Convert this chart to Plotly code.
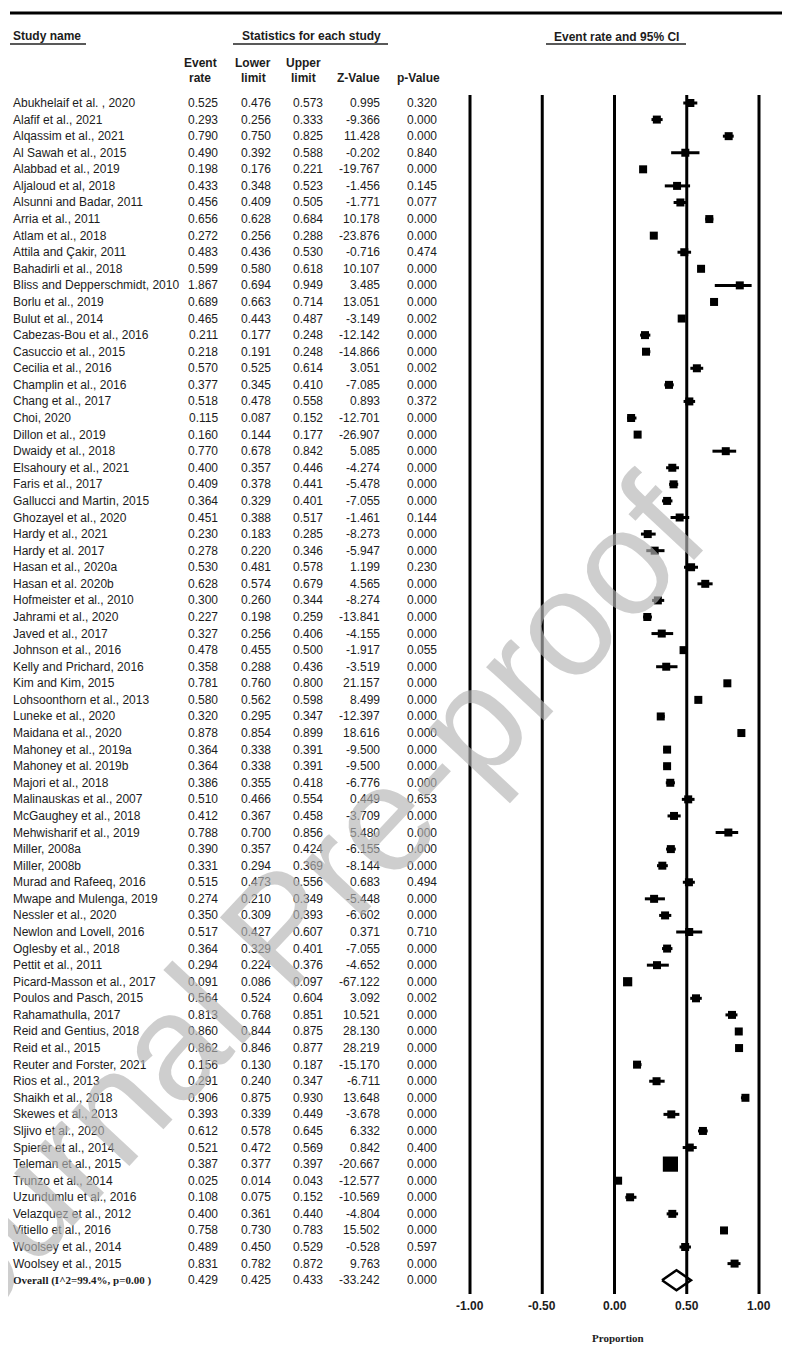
import plotly.graph_objects as go

# ---------------- data ----------------
study_names = [
    "Abukhelaif et al. , 2020", "Alafif et al., 2021", "Alqassim et al., 2021", "Al Sawah et al., 2015",
    "Alabbad et al., 2019", "Aljaloud et al, 2018", "Alsunni and Badar, 2011", "Arria et al., 2011",
    "Atlam et al., 2018", "Attila and Çakir, 2011", "Bahadirli et al., 2018", "Bliss and Depperschmidt, 2010",
    "Borlu et al., 2019", "Bulut et al., 2014", "Cabezas-Bou et al., 2016", "Casuccio et al., 2015",
    "Cecilia et al., 2016", "Champlin et al., 2016", "Chang et al., 2017", "Choi, 2020",
    "Dillon et al., 2019", "Dwaidy et al., 2018", "Elsahoury et al., 2021", "Faris et al., 2017",
    "Gallucci and Martin, 2015", "Ghozayel et al., 2020", "Hardy et al., 2021", "Hardy et al. 2017",
    "Hasan et al., 2020a", "Hasan et al. 2020b", "Hofmeister et al., 2010", "Jahrami et al., 2020",
    "Javed et al., 2017", "Johnson et al., 2016", "Kelly and Prichard, 2016", "Kim and Kim, 2015",
    "Lohsoonthorn et al., 2013", "Luneke et al., 2020", "Maidana et al., 2020", "Mahoney et al., 2019a",
    "Mahoney et al. 2019b", "Majori et al., 2018", "Malinauskas et al., 2007", "McGaughey et al., 2018",
    "Mehwisharif et al., 2019", "Miller, 2008a", "Miller, 2008b", "Murad and Rafeeq, 2016",
    "Mwape and Mulenga, 2019", "Nessler et al., 2020", "Newlon and Lovell, 2016", "Oglesby et al., 2018",
    "Pettit et al., 2011", "Picard-Masson et al., 2017", "Poulos and Pasch, 2015", "Rahamathulla, 2017",
    "Reid and Gentius, 2018", "Reid et al., 2015", "Reuter and Forster, 2021", "Rios et al., 2013",
    "Shaikh et al., 2018", "Skewes et al., 2013", "Sljivo et al., 2020", "Spierer et al., 2014",
    "Teleman et al., 2015", "Trunzo et al., 2014", "Uzundumlu et al., 2016", "Velazquez et al., 2012",
    "Vitiello et al., 2016", "Woolsey et al., 2014", "Woolsey et al., 2015",
]
event_rate = [
    0.525, 0.293, 0.790, 0.490, 0.198, 0.433, 0.456, 0.656, 0.272, 0.483, 0.599, 1.867,
    0.689, 0.465, 0.211, 0.218, 0.570, 0.377, 0.518, 0.115, 0.160, 0.770, 0.400, 0.409,
    0.364, 0.451, 0.230, 0.278, 0.530, 0.628, 0.300, 0.227, 0.327, 0.478, 0.358, 0.781,
    0.580, 0.320, 0.878, 0.364, 0.364, 0.386, 0.510, 0.412, 0.788, 0.390, 0.331, 0.515,
    0.274, 0.350, 0.517, 0.364, 0.294, 0.091, 0.564, 0.813, 0.860, 0.862, 0.156, 0.291,
    0.906, 0.393, 0.612, 0.521, 0.387, 0.025, 0.108, 0.400, 0.758, 0.489, 0.831,
]
lower_limit = [
    0.476, 0.256, 0.750, 0.392, 0.176, 0.348, 0.409, 0.628, 0.256, 0.436, 0.580, 0.694,
    0.663, 0.443, 0.177, 0.191, 0.525, 0.345, 0.478, 0.087, 0.144, 0.678, 0.357, 0.378,
    0.329, 0.388, 0.183, 0.220, 0.481, 0.574, 0.260, 0.198, 0.256, 0.455, 0.288, 0.760,
    0.562, 0.295, 0.854, 0.338, 0.338, 0.355, 0.466, 0.367, 0.700, 0.357, 0.294, 0.473,
    0.210, 0.309, 0.427, 0.329, 0.224, 0.086, 0.524, 0.768, 0.844, 0.846, 0.130, 0.240,
    0.875, 0.339, 0.578, 0.472, 0.377, 0.014, 0.075, 0.361, 0.730, 0.450, 0.782,
]
upper_limit = [
    0.573, 0.333, 0.825, 0.588, 0.221, 0.523, 0.505, 0.684, 0.288, 0.530, 0.618, 0.949,
    0.714, 0.487, 0.248, 0.248, 0.614, 0.410, 0.558, 0.152, 0.177, 0.842, 0.446, 0.441,
    0.401, 0.517, 0.285, 0.346, 0.578, 0.679, 0.344, 0.259, 0.406, 0.500, 0.436, 0.800,
    0.598, 0.347, 0.899, 0.391, 0.391, 0.418, 0.554, 0.458, 0.856, 0.424, 0.369, 0.556,
    0.349, 0.393, 0.607, 0.401, 0.376, 0.097, 0.604, 0.851, 0.875, 0.877, 0.187, 0.347,
    0.930, 0.449, 0.645, 0.569, 0.397, 0.043, 0.152, 0.440, 0.783, 0.529, 0.872,
]
z_value = [
    0.995, -9.366, 11.428, -0.202, -19.767, -1.456, -1.771, 10.178, -23.876, -0.716, 10.107, 3.485,
    13.051, -3.149, -12.142, -14.866, 3.051, -7.085, 0.893, -12.701, -26.907, 5.085, -4.274, -5.478,
    -7.055, -1.461, -8.273, -5.947, 1.199, 4.565, -8.274, -13.841, -4.155, -1.917, -3.519, 21.157,
    8.499, -12.397, 18.616, -9.500, -9.500, -6.776, 0.449, -3.709, 5.480, -6.155, -8.144, 0.683,
    -5.448, -6.602, 0.371, -7.055, -4.652, -67.122, 3.092, 10.521, 28.130, 28.219, -15.170, -6.711,
    13.648, -3.678, 6.332, 0.842, -20.667, -12.577, -10.569, -4.804, 15.502, -0.528, 9.763,
]
p_value = [
    0.320, 0.000, 0.000, 0.840, 0.000, 0.145, 0.077, 0.000, 0.000, 0.474, 0.000, 0.000,
    0.000, 0.002, 0.000, 0.000, 0.002, 0.000, 0.372, 0.000, 0.000, 0.000, 0.000, 0.000,
    0.000, 0.144, 0.000, 0.000, 0.230, 0.000, 0.000, 0.000, 0.000, 0.055, 0.000, 0.000,
    0.000, 0.000, 0.000, 0.000, 0.000, 0.000, 0.653, 0.000, 0.000, 0.000, 0.000, 0.494,
    0.000, 0.000, 0.710, 0.000, 0.000, 0.000, 0.002, 0.000, 0.000, 0.000, 0.000, 0.000,
    0.000, 0.000, 0.000, 0.400, 0.000, 0.000, 0.000, 0.000, 0.000, 0.597, 0.000,
]
# The table prints 1.867 for Bliss; the marker in the plot sits at 0.867
plotted_rate_fix = {"Bliss and Depperschmidt, 2010": 0.867}
# relative study weights (marker size)
relative_weight = {"Teleman et al., 2015": 1.9, "Picard-Masson et al., 2017": 1.15}

overall_label = "Overall (I^2=99.4%, p=0.00 )"
overall = dict(rate=0.429, lower=0.425, upper=0.433, z=-33.242, p=0.000)

x_ticks = [-1.0, -0.5, 0.0, 0.5, 1.0]
x_title = "Proportion"

# ---------------- layout helpers ----------------
# page body has an 8px margin; all positions below are given in window pixels
OFF = 8
FW, FH = 782, 1349
PX_PER_UNIT = 144.5
X_AT_MINUS1 = 470.0 - OFF
XR0 = -1 - X_AT_MINUS1 / PX_PER_UNIT
XR1 = XR0 + FW / PX_PER_UNIT


def PX(x):
    return (x - OFF) / FW


def PY(y):
    return y - OFF


ROW0, ROWH = 103.0, 16.58
row_y = [PY(ROW0 + i * ROWH) for i in range(len(study_names))]
overall_y = PY(ROW0 + len(study_names) * ROWH)

SANS = "Liberation Sans, Arial, sans-serif"
SERIF = "Liberation Serif, Times New Roman, serif"
TXT = "#1c1c1c"

fig = go.Figure()

# CI lines + squares
plot_rate = [plotted_rate_fix.get(n, r) for n, r in zip(study_names, event_rate)]
sizes = [8 * relative_weight.get(n, 1.0) for n in study_names]
fig.add_trace(go.Scatter(
    x=plot_rate, y=row_y, mode="markers",
    marker=dict(symbol="square", size=sizes, color="black", opacity=1, line=dict(width=0)),
    error_x=dict(type="data", symmetric=False,
                 array=[u - r for u, r in zip(upper_limit, plot_rate)],
                 arrayminus=[r - l for r, l in zip(plot_rate, lower_limit)],
                 thickness=3, width=0, color="black"),
    hoverinfo="skip",
))

# overall diamond
DW, DH = 0.1, 10
o = overall["rate"]
fig.add_trace(go.Scatter(
    x=[o - DW, o, o + DW, o, o - DW],
    y=[overall_y, overall_y - DH, overall_y, overall_y + DH, overall_y],
    mode="lines", fill="toself", fillcolor="white",
    line=dict(color="black", width=2.5), hoverinfo="skip",
))

shapes = []
for t in x_ticks:
    shapes.append(dict(type="line", xref="x", yref="y", x0=t, x1=t, y0=PY(95), y1=PY(1294),
                       line=dict(color="black", width=3), layer="above"))
# top rule
shapes.append(dict(type="line", xref="paper", yref="y", x0=PX(10), x1=1, y0=PY(13), y1=PY(13),
                   line=dict(color="black", width=3)))
# header underlines
for a, b in [(10, 86), (233, 388), (546, 686)]:
    shapes.append(dict(type="line", xref="paper", yref="y", x0=PX(a), x1=PX(b), y0=PY(44), y1=PY(44),
                       line=dict(color="#222", width=1.3)))

ann = []


def add_text(x, y, text, anchor="left", size=12, bold=False, family=SANS, xref="paper", color=TXT):
    ann.append(dict(x=PX(x) if xref == "paper" else x, y=y, xref=xref, yref="y",
                    text=f"<b>{text}</b>" if bold else text, showarrow=False,
                    xanchor=anchor, yanchor="middle",
                    font=dict(family=family, size=size, color=color)))


add_text(11, PY(36), "Study name", bold=True)
add_text(311, PY(36), "Statistics for each study", anchor="center", bold=True)
add_text(616, PY(37), "Event rate and 95% CI", anchor="center", bold=True)

col_right = [220, 273, 325, 382, 439]
headers = [("Event", "rate", 200), ("Lower", "limit", 253), ("Upper", "limit", 303)]
for top, bot, cx in headers:
    add_text(cx, PY(63), top, anchor="center", bold=True)
    add_text(cx, PY(78), bot, anchor="center", bold=True)
add_text(358, PY(78), "Z-Value", anchor="center", bold=True)
add_text(418, PY(78), "p-Value", anchor="center", bold=True)

for i, n in enumerate(study_names):
    y = row_y[i]
    add_text(11, y, n)
    vals = [event_rate[i], lower_limit[i], upper_limit[i], z_value[i], p_value[i]]
    for xr, v in zip(col_right, vals):
        add_text(xr, y, f"{v:.3f}", anchor="right")

add_text(11, overall_y, overall_label, bold=True, family=SERIF, size=11)
for xr, v in zip(col_right, [overall["rate"], overall["lower"], overall["upper"], overall["z"], overall["p"]]):
    add_text(xr, overall_y, f"{v:.3f}", anchor="right")

for t in x_ticks:
    add_text(t, PY(1306), f"{t:.2f}", anchor="center", bold=True, xref="x")
add_text(618, PY(1338), x_title, anchor="center", bold=True, family=SERIF, size=11)

# watermark
ann.append(dict(x=PX(280), y=PY(928), xref="paper", yref="y", text="Journal Pre-proof", showarrow=False,
                textangle=-47, xanchor="center", yanchor="middle",
                font=dict(family=SANS, size=150, color="rgba(180,180,180,0.65)")))

fig.update_layout(
    width=FW, height=FH, margin=dict(l=0, r=0, t=0, b=0),
    paper_bgcolor="white", plot_bgcolor="white", showlegend=False,
    xaxis=dict(range=[XR0, XR1], visible=False, domain=[0, 1], fixedrange=True),
    yaxis=dict(range=[FH, 0], visible=False, domain=[0, 1], fixedrange=True),
    shapes=shapes, annotations=ann,
)

fig.write_html("out.html")
